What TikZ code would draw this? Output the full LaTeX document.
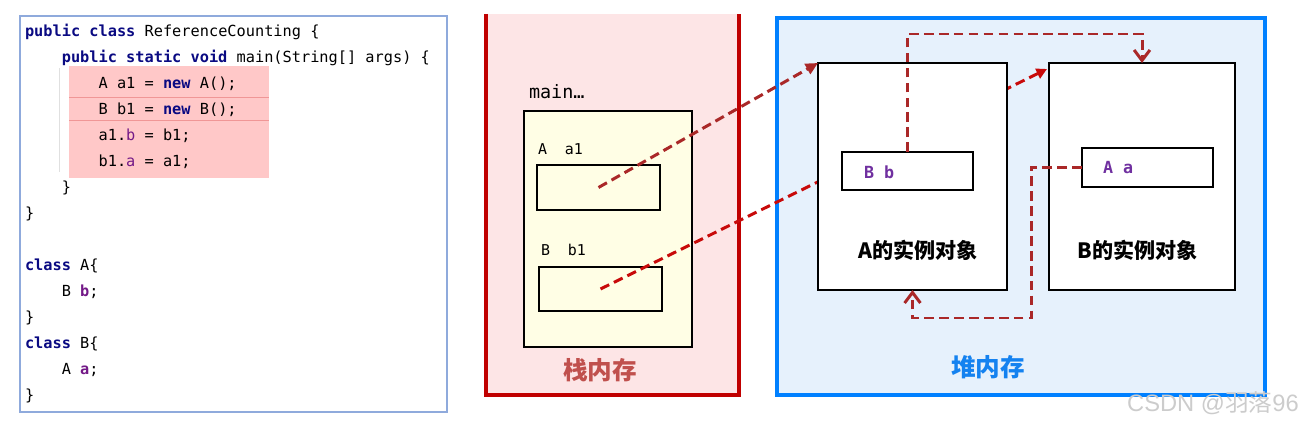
\documentclass[tikz,border=0pt]{standalone}
\usepackage{fontspec}
\setmonofont{DejaVu Sans Mono}
\newfontfamily\cjk{Noto Sans CJK SC}
\newfontfamily\wmfont{Liberation Sans}
\usepackage{xcolor}
\usetikzlibrary{arrows.meta, positioning}

\definecolor{codeframe}{RGB}{143,170,220}
\definecolor{hilite}{RGB}{255,200,200}
\definecolor{hisep}{RGB}{240,150,150}
\definecolor{kwnavy}{RGB}{10,10,130}
\definecolor{fldpurple}{RGB}{115,25,135}
\definecolor{stackred}{RGB}{192,0,0}
\definecolor{stackfill}{RGB}{253,229,230}
\definecolor{stacktext}{RGB}{192,80,77}
\definecolor{framefill}{RGB}{255,254,229}
\definecolor{heapblue}{RGB}{0,128,255}
\definecolor{heapfill}{RGB}{230,241,252}
\definecolor{heaptext}{RGB}{20,130,240}
\definecolor{refbrown}{RGB}{170,40,40}
\definecolor{refred}{RGB}{200,10,10}
\definecolor{labpurple}{RGB}{112,48,160}

\newcommand{\pxu}{0.02cm}
\newcommand{\kw}[1]{\textcolor{kwnavy}{\bfseries #1}}
\newcommand{\fld}[1]{\textcolor{fldpurple}{#1}}
\newcommand{\ind}{\hphantom{xxxx}}

\begin{document}
\begin{tikzpicture}[
    x=\pxu, y=-\pxu,
    every node/.style={inner sep=0pt, outer sep=0pt},
    box/.style={draw=black, line width=0.8pt, anchor=north west},
    code/.style={anchor=north west, align=left,
        font=\fontsize{8.7}{14.8}\selectfont\ttfamily},
    varlabel/.style={anchor=west, font=\fontsize{8.5}{10}\selectfont\ttfamily},
    fieldlabel/.style={anchor=west, text=labpurple,
        font=\fontsize{9.5}{11}\selectfont\ttfamily\bfseries},
    objlabel/.style={font=\fontsize{12}{14}\selectfont\cjk\bfseries},
    arealabel/.style={font=\fontsize{14}{16}\selectfont\cjk\bfseries},
    refedge/.style={draw=refbrown, line width=1.7pt, dash pattern=on 5.5pt off 3pt,
        -{Straight Barb[length=6pt, width=9pt]}},
    redge/.style={draw=refred, line width=1.7pt, dash pattern=on 5.5pt off 3pt,
        -{Triangle[length=6pt, width=6pt]}},
]
\useasboundingbox (0,0) rectangle (1307,425);

% Left: source code
\node[box, draw=codeframe, line width=0.6pt, minimum width=427*\pxu, minimum height=396*\pxu] (codepanel) at (20,16) {};
\fill[hilite] (69,66) rectangle (269,178);
\draw[hisep, line width=0.5pt] (69,97) -- (269,97) (69,120) -- (269,120);
\draw[black!12, line width=0.5pt] (59,68) -- (59,172);
\node[code] (src) at (25,24.5) {%
\kw{public class} ReferenceCounting \{\\
\ind\kw{public static void} main(String[] args) \{\\
\ind\ind A a1 = \kw{new} A();\\
\ind\ind B b1 = \kw{new} B();\\
\ind\ind a1.\fld{b} = b1;\\
\ind\ind b1.\fld{a} = a1;\\
\ind\}\\
\}\\
\mbox{}\\
\kw{class} A\{\\
\ind B \fld{\bfseries b};\\
\}\\
\kw{class} B\{\\
\ind A \fld{\bfseries a};\\
\}};

% Middle: stack
\node[anchor=north west, fill=stackfill, minimum width=253*\pxu, minimum height=381*\pxu] (stack) at (486,14) {};
\draw[stackred, line width=1.8pt] (stack.north west) -- (stack.south west) -- (stack.south east) -- (stack.north east);
\node[anchor=base west, font=\fontsize{10.5}{12}\selectfont\ttfamily] (mainlbl) at (529,99) {main…};
\node[box, fill=framefill, minimum width=168*\pxu, minimum height=236*\pxu] (mainframe) at (524,111) {};
\node[varlabel] (a1lbl) at (538,149) {A\ \ a1};
\node[box, fill=framefill, minimum width=123*\pxu, minimum height=45*\pxu] (a1) at (537,165) {};
\node[varlabel] (b1lbl) at (541,250) {B\ \ b1};
\node[box, fill=framefill, minimum width=123*\pxu, minimum height=44*\pxu] (b1) at (539,267) {};
\node[arealabel, text=stacktext] (stacklbl) at (600,370) {栈内存};

% Right: heap
\node[box, draw=heapblue, line width=2.3pt, fill=heapfill, minimum width=488*\pxu, minimum height=377*\pxu] (heap) at (777,18) {};
\node[box, fill=white, minimum width=186*\pxu, minimum height=227*\pxu] (bobj) at (1049,63) {};
\node[box, fill=white, minimum width=131*\pxu, minimum height=39*\pxu] (aa) at (1082,148) {};
\node[fieldlabel] (aalbl) at (1103,168) {A a};
\node[objlabel] (blbl) at (1138,250) {B的实例对象};

% b1 -> B object (passes behind A object)
\draw[redge] (b1.center) -- ([shift={(-2,6)}]bobj.north west);

\node[box, fill=white, minimum width=189*\pxu, minimum height=227*\pxu] (aobj) at (818,63) {};
\node[box, fill=white, minimum width=131*\pxu, minimum height=38*\pxu] (bb) at (842,152) {};
\node[fieldlabel] (bblbl) at (864,172) {B b};
\node[objlabel] (albl) at (918,250) {A的实例对象};
\node[arealabel, text=heaptext] (heaplbl) at (988,367) {堆内存};

% Edges
\coordinate (bturn) at (907.5,34);
\coordinate (aturn) at (1031,318);
\draw[refedge, -{Triangle[length=7pt, width=6.5pt]}] (a1.center) -- (aobj.north west);
\draw[refedge] (bb.north) -- (bturn) -| (bobj.north);
\draw[refedge] (aa.west) -| (aturn) -| (aobj.south);

% watermark
\node[text=black!20, font=\fontsize{13.5}{15}\selectfont\wmfont] (mark) at (1213,403) {CSDN @{\cjk 羽落}96};
\end{tikzpicture}
\end{document}
